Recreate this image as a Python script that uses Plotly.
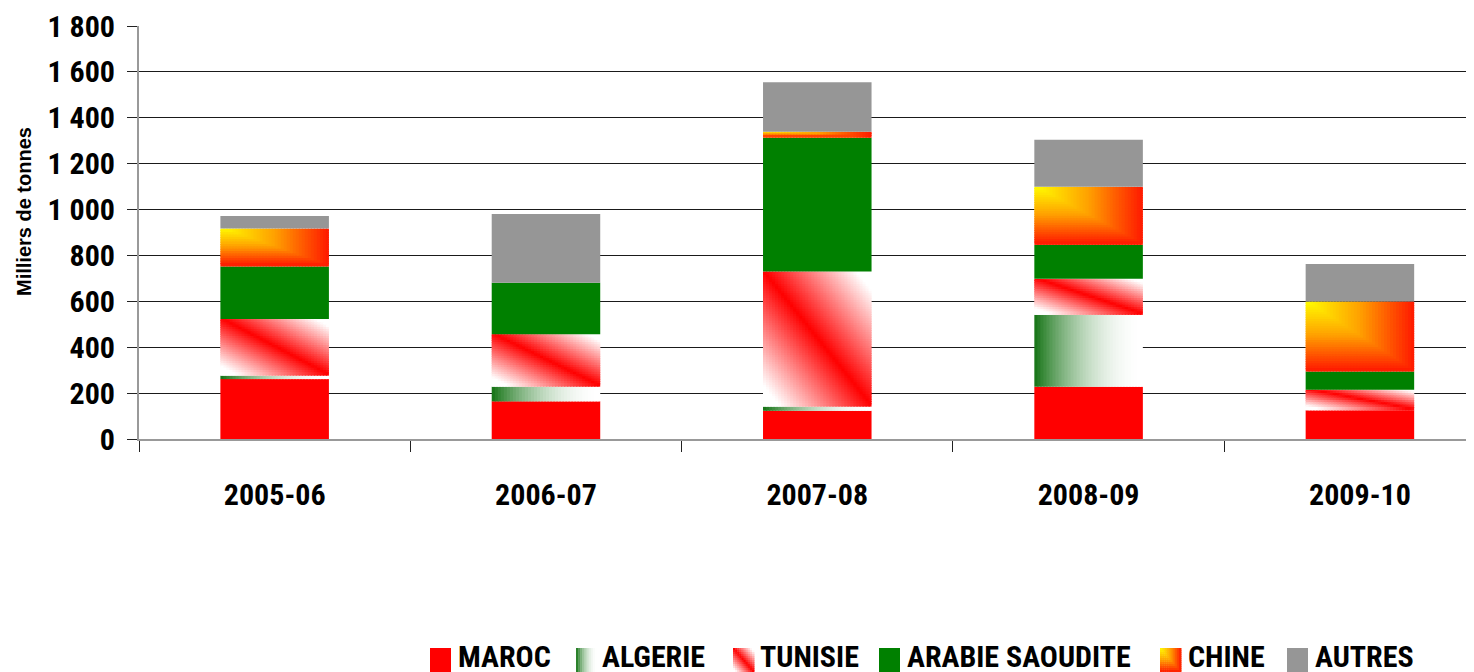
import plotly.graph_objects as go
import numpy as np

categories = ["2005-06", "2006-07", "2007-08", "2008-09", "2009-10"]
maroc = [261, 164, 123, 228, 125]
algerie = [15, 64, 18, 313, 0]
tunisie = [247, 229, 589, 157, 90]
arabie = [229, 224, 583, 148, 79]
chine = [165, 0, 26, 253, 305]
autres = [55, 300, 216, 205, 164]
series_names = ["MAROC", "ALGERIE", "TUNISIE", "ARABIE SAOUDITE", "CHINE", "AUTRES"]
y_tick_vals = [0, 200, 400, 600, 800, 1000, 1200, 1400, 1600, 1800]
y_tick_text = ["0", "200", "400", "600", "800", "1 000", "1 200", "1 400", "1 600", "1 800"]

FONT = "Roboto Condensed, Liberation Sans Narrow, Arial Narrow, DejaVu Sans Condensed, Roboto, sans-serif"
BAR_W = 0.40
OFF = 8  # page body margin in the browser


def mix(c1, c2, s):
    s = min(1.0, max(0.0, s))
    return tuple(c1[k] + (c2[k] - c1[k]) * s for k in range(3))


def rgb(c):
    return "rgb(%d,%d,%d)" % tuple(int(round(v)) for v in c)


def col_algerie(u, v):
    s = 1 - (1 - u) ** 2
    return rgb(mix((20, 115, 20), (255, 255, 255), s))


def col_tunisie(u, v):
    d = abs(u - v)
    s = min(1.0, d / 0.85)
    return rgb(mix((255, 0, 0), (255, 255, 255), s))


def col_chine(u, v):
    t = max(u, v)
    if t < 0.5:
        return rgb(mix((255, 255, 0), (255, 160, 0), t / 0.5))
    return rgb(mix((255, 160, 0), (255, 25, 0), (t - 0.5) / 0.5))


styles = [
    ("solid", "#FF0000", None),
    ("h", None, col_algerie),
    ("grid", None, col_tunisie),
    ("solid", "#008000", None),
    ("grid", None, col_chine),
    ("solid", "#969696", None),
]
data = [maroc, algerie, tunisie, arabie, chine, autres]

# screen geometry of the plot area (reference picture)
L, R, T, B = 139, 1482, 26, 439
UNIT_PER_PX = 1800.0 / (B - T)
CAT_PER_PX = 4.95 / (R - L)

fig = go.Figure()
cum = np.zeros(len(categories))
NCOL = 36
for (kind, color, fn), vals, name in zip(styles, data, series_names):
    vals = np.array(vals, dtype=float)
    base = cum.copy()
    if kind == "solid":
        fig.add_trace(go.Bar(x=categories, y=vals, base=base, width=BAR_W,
                             marker=dict(color=color, line=dict(width=0)),
                             name=name, showlegend=False, hoverinfo="x+y+name"))
    else:
        xs, ys, bs, offs, ws, cols = [], [], [], [], [], []
        for i, cat in enumerate(categories):
            v = vals[i]
            if v <= 0:
                continue
            nrow = 1 if kind == "h" else max(1, int(round(v / 10)))
            h = v / nrow
            for r in range(nrow):
                vv = (r + 0.5) / nrow  # from top
                ext = 0 if r == 0 else min(1.2 * UNIT_PER_PX, h * 0.5)
                for c in range(NCOL):
                    u = (c + 0.5) / NCOL
                    wext = 0 if c == NCOL - 1 else 1.2 * CAT_PER_PX
                    xs.append(cat)
                    ys.append(h + ext)
                    bs.append(base[i] + v * (nrow - 1 - r) / nrow)
                    offs.append(-BAR_W / 2 + c * BAR_W / NCOL)
                    ws.append(BAR_W / NCOL + wext)
                    cols.append(fn(u, vv))
        fig.add_trace(go.Bar(x=xs, y=ys, base=bs, offset=offs, width=ws,
                             marker=dict(color=cols, line=dict(width=0)),
                             name=name, showlegend=False, hoverinfo="skip"))
    cum += vals


def px_x(p):
    return (p - L) / (R - L)


def px_y(p):
    return (B - p) / (B - T)


legend_sw = [430, 576, 733, 879, 1160, 1287]
legend_tx = [459, 603, 761, 908, 1189, 1316]
shapes = []
annotations = []
SW_W, SW_T, SW_B = 21, 648, 672
for k, ((kind, color, fn), name) in enumerate(zip(styles, series_names)):
    x0 = legend_sw[k]
    if kind == "solid":
        shapes.append(dict(type="rect", xref="paper", yref="paper",
                           x0=px_x(x0), x1=px_x(x0 + SW_W), y0=px_y(SW_B), y1=px_y(SW_T),
                           fillcolor=color, line=dict(width=0)))
    else:
        nc, nr = 10, (1 if kind == "h" else 12)
        for r in range(nr):
            for c in range(nc):
                u = (c + 0.5) / nc
                vv = (r + 0.5) / nr
                cx0 = x0 + SW_W * c / nc
                cy0 = SW_T + (SW_B - SW_T) * r / nr
                shapes.append(dict(type="rect", xref="paper", yref="paper",
                                   x0=px_x(cx0), x1=px_x(cx0 + SW_W / nc + 0.5),
                                   y0=px_y(cy0 + (SW_B - SW_T) / nr + 0.5), y1=px_y(cy0),
                                   fillcolor=fn(u, vv), line=dict(width=0)))
    annotations.append(dict(xref="paper", yref="paper", x=px_x(legend_tx[k] - 3), y=px_y(656),
                            xanchor="left", yanchor="middle", showarrow=False, text=name,
                            font=dict(family=FONT, size=30, color="#000", weight="bold")))

annotations.append(dict(xref="paper", yref="paper", x=px_x(24), y=px_y(212),
                        xanchor="center", yanchor="middle", showarrow=False,
                        text="Milliers de tonnes", textangle=-90,
                        font=dict(family="Liberation Sans, Arial, sans-serif", size=20,
                                  color="#000", weight="bold")))

fig.update_layout(
    width=1474, height=672,
    margin=dict(l=L - OFF, r=1474 - (R - OFF), t=T - OFF, b=672 - (B - OFF)),
    barmode="overlay",
    plot_bgcolor="white", paper_bgcolor="white",
    showlegend=False,
    shapes=shapes, annotations=annotations,
    font=dict(family=FONT, color="#000"),
)
fig.update_xaxes(
    type="category", categoryorder="array", categoryarray=categories,
    range=[-0.5, 4.45],
    showline=True, linecolor="#999999", linewidth=2,
    ticks="outside", tickson="boundaries", ticklen=11, tickcolor="#222", tickwidth=1,
    ticklabelstandoff=28,
    tickfont=dict(family=FONT, size=30, color="#000", weight="bold"),
    showgrid=False, zeroline=False,
)
fig.update_yaxes(
    range=[0, 1800], tickvals=y_tick_vals, ticktext=y_tick_text,
    showline=True, linecolor="#999999", linewidth=2,
    ticks="outside", ticklen=10, tickcolor="#222", tickwidth=1,
    ticklabelstandoff=6,
    tickfont=dict(family=FONT, size=30, color="#000", weight="bold"),
    showgrid=True, gridcolor="#1a1a1a", gridwidth=1, zeroline=False,
)
fig.write_html("out.html")
